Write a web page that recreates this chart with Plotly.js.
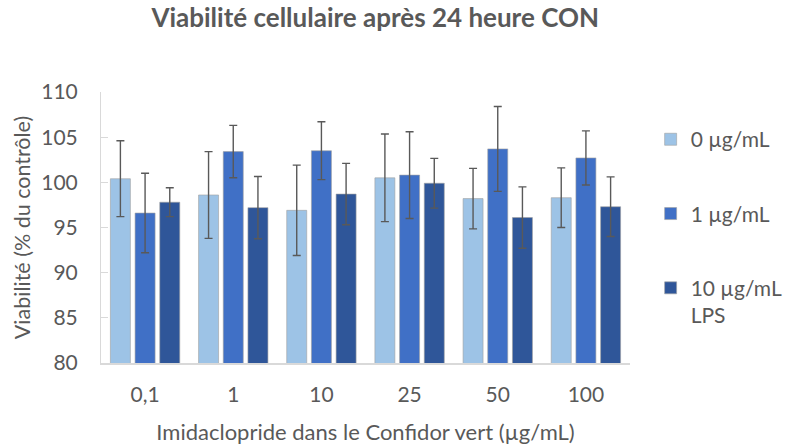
<!DOCTYPE html>
<html>
<head>
<meta charset="utf-8">
<script src="https://cdn.plot.ly/plotly-3.0.1.min.js"></script>
<style>body{margin:0;background:#fff}#chart{width:800px;height:445px}</style>
</head>
<body>
<div id="chart"></div>
<script>
const categories = ["0,1", "1", "10", "25", "50", "100"];
const seriesNames = ["0 µg/mL", "1 µg/mL", "10 µg/mL<br>LPS"];
const values0 = [100.4, 98.6, 96.9, 100.5, 98.2, 98.3];
const errors0 = [4.2, 4.8, 5.0, 4.85, 3.35, 3.3];
const values1 = [96.6, 103.4, 103.5, 100.8, 103.7, 102.7];
const errors1 = [4.4, 2.9, 3.2, 4.8, 4.7, 3.0];
const values10 = [97.8, 97.2, 98.7, 99.9, 96.1, 97.3];
const errors10 = [1.6, 3.45, 3.4, 2.75, 3.4, 3.3];
const colors = ["#9DC3E6", "#4070C6", "#2F5699"];

const allValues = [values0, values1, values10];
const allErrors = [errors0, errors1, errors10];
const font = "Lato, 'Open Sans', sans-serif";
const grey = "#595959";

const traces = allValues.map((v, i) => ({
  type: "bar",
  name: seriesNames[i],
  x: categories,
  y: v,
  legendgroup: "g" + i,
  marker: {color: colors[i], line: {color: "rgba(160,160,160,0.6)", width: 1}},
  error_y: {type: "data", array: allErrors[i], visible: true, color: grey, thickness: 1.4, width: 4}
}));

const layout = {
  width: 800, height: 445,
  margin: {l: 101, r: 140, t: 92, b: 82},
  paper_bgcolor: "#fff", plot_bgcolor: "#fff",
  font: {family: font, color: grey},
  title: {text: "<b>Viabilité cellulaire après 24 heure CON</b>", font: {size: 26, color: grey, family: font},
          x: 0.469, xanchor: "center", y: 0.96, yanchor: "middle", xref: "container", yref: "container"},
  barmode: "group", bargap: 0.16, bargroupgap: 0.19,
  xaxis: {
    type: "category", showgrid: false, showline: true, linecolor: "#d9d9d9", linewidth: 2,
    ticks: "", tickfont: {size: 21, color: grey}, ticklabelstandoff: 12,
    title: {text: "Imidaclopride dans le Confidor vert (µg/mL)", font: {size: 22, color: grey}, standoff: 22}
  },
  yaxis: {
    range: [80, 110], dtick: 5, showgrid: false, zeroline: false,
    showline: true, linecolor: "#d9d9d9", linewidth: 1,
    ticks: "inside", ticklen: 7, tickcolor: "#d9d9d9",
    tickfont: {size: 21, color: grey}, ticklabelstandoff: 18,
    title: {text: "Viabilité (% du contrôle)", font: {size: 21.5, color: grey}, standoff: 4}
  },
  legend: {x: 1.039, xanchor: "left", y: 0.9, yanchor: "top", valign: "top",
           font: {size: 21, color: grey}, tracegroupgap: 44, itemwidth: 30},
  showlegend: true
};

Plotly.newPlot("chart", traces, layout, {displayModeBar: false, staticPlot: true});
</script>
</body>
</html>
